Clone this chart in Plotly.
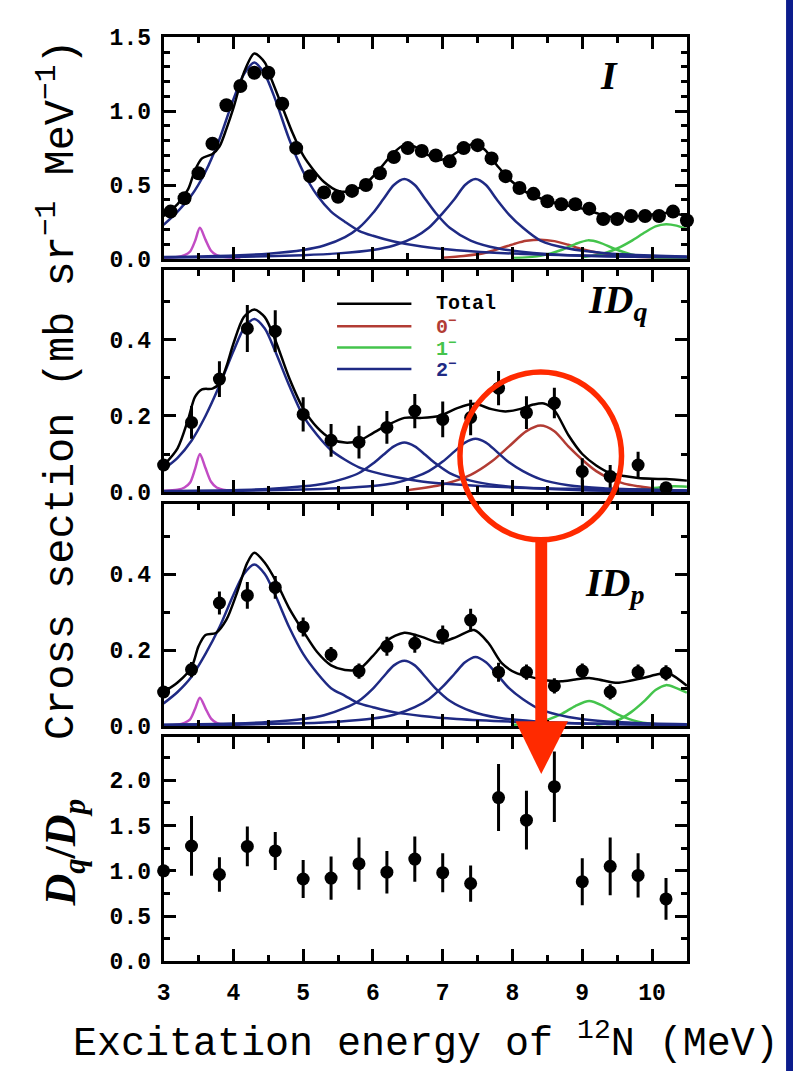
import plotly.graph_objects as go

W, H = 793, 1071

# ---------------- data: panel 1 (I) ----------------
i_x = [3.1, 3.3, 3.5, 3.7, 3.9, 4.1, 4.3, 4.5, 4.7, 4.9, 5.1, 5.3, 5.5, 5.7, 5.9, 6.1, 6.3, 6.5, 6.7,
       6.9, 7.1, 7.3, 7.5, 7.7, 7.9, 8.1, 8.3, 8.5, 8.7, 8.9, 9.1, 9.3, 9.5, 9.7, 9.9, 10.1, 10.3, 10.5]
i_y = [0.32, 0.41, 0.58, 0.78, 1.04, 1.17, 1.26, 1.26, 1.05, 0.75, 0.56, 0.45, 0.42, 0.46, 0.50, 0.58,
       0.69, 0.75, 0.73, 0.70, 0.66, 0.75, 0.77, 0.68, 0.56, 0.48, 0.44, 0.39, 0.37, 0.37, 0.34, 0.27,
       0.27, 0.29, 0.29, 0.29, 0.32, 0.26]

i_tot_x = [3.0, 3.2, 3.35, 3.45, 3.55, 3.7, 3.8, 3.9, 4.0, 4.15, 4.3, 4.45, 4.55, 4.7, 4.85, 5.0, 5.15,
           5.3, 5.5, 5.7, 5.9, 6.1, 6.3, 6.45, 6.6, 6.8, 6.95, 7.1, 7.3, 7.45, 7.6, 7.8, 8.0, 8.2, 8.4,
           8.6, 8.8, 9.0, 9.2, 9.4, 9.6, 9.8, 10.0, 10.2, 10.4, 10.5]
i_tot_y = [0.29, 0.37, 0.47, 0.60, 0.68, 0.71, 0.76, 0.88, 1.02, 1.26, 1.39, 1.33, 1.21, 1.03, 0.85,
           0.70, 0.60, 0.52, 0.46, 0.46, 0.51, 0.61, 0.72, 0.77, 0.76, 0.70, 0.67, 0.69, 0.75, 0.78,
           0.74, 0.62, 0.52, 0.45, 0.41, 0.38, 0.36, 0.34, 0.31, 0.285, 0.28, 0.29, 0.30, 0.31, 0.30, 0.29]

i_mag_x = [3.0, 3.2, 3.3, 3.38, 3.45, 3.52, 3.6, 3.68, 3.76, 3.9, 4.1]
i_mag_y = [0.005, 0.012, 0.025, 0.05, 0.12, 0.21, 0.13, 0.055, 0.025, 0.01, 0.005]

i_b1_x = [3.0, 3.2, 3.4, 3.6, 3.8, 4.0, 4.15, 4.3, 4.45, 4.6, 4.8, 5.0, 5.2, 5.4, 5.6, 5.8, 6.0,
          6.3, 6.7, 7.2, 8.0, 9.0, 10.5]
i_b1_y = [0.23, 0.32, 0.43, 0.59, 0.81, 1.08, 1.25, 1.33, 1.25, 1.08, 0.81, 0.59, 0.43, 0.32, 0.25,
          0.19, 0.156, 0.117, 0.083, 0.058, 0.036, 0.023, 0.013]

i_b2_x = [3.0, 4.0, 4.5, 5.0, 5.3, 5.6, 5.8, 6.0, 6.15, 6.3, 6.45, 6.6, 6.75, 6.9, 7.1, 7.4, 7.8,
          8.3, 9.0, 10.5]
i_b2_y = [0.012, 0.023, 0.035, 0.06, 0.09, 0.147, 0.21, 0.31, 0.405, 0.50, 0.54, 0.50, 0.405, 0.31,
          0.21, 0.124, 0.07, 0.04, 0.021, 0.009]

i_b3_x = [3.0, 4.0, 5.0, 5.5, 6.0, 6.3, 6.6, 6.8, 7.0, 7.17, 7.32, 7.47, 7.62, 7.77, 7.95, 8.15,
          8.4, 8.8, 9.3, 10.0, 10.5]
i_b3_y = [0.008, 0.013, 0.025, 0.037, 0.06, 0.09, 0.147, 0.21, 0.31, 0.405, 0.50, 0.54, 0.50,
          0.405, 0.30, 0.21, 0.124, 0.07, 0.04, 0.022, 0.016]

i_red_x = [7.0, 7.3, 7.6, 7.85, 8.05, 8.2, 8.4, 8.6, 8.8, 9.0, 9.3, 9.7, 10.1, 10.5]
i_red_y = [0.008, 0.02, 0.04, 0.075, 0.105, 0.122, 0.13, 0.12, 0.095, 0.065, 0.035, 0.015, 0.008, 0.005]

i_g1_x = [8.0, 8.4, 8.7, 8.9, 9.08, 9.25, 9.45, 9.7, 10.0, 10.5]
i_g1_y = [0.005, 0.02, 0.06, 0.10, 0.125, 0.11, 0.07, 0.03, 0.01, 0.004]

i_g2_x = [9.0, 9.3, 9.5, 9.7, 9.9, 10.05, 10.2, 10.35, 10.5]
i_g2_y = [0.01, 0.035, 0.07, 0.12, 0.18, 0.22, 0.235, 0.225, 0.20]

# ---------------- data: panels 2-4 share the energy bins ----------------
bin_x = [3.0, 3.4, 3.8, 4.2, 4.6, 5.0, 5.4, 5.8, 6.2, 6.6, 7.0, 7.4, 7.8, 8.2, 8.6, 9.0, 9.4, 9.8, 10.2]

# panel 2 (ID_q)
q_y = [0.071, 0.183, 0.297, 0.43, 0.423, 0.204, 0.136, 0.131, 0.17, 0.213, 0.191, 0.196, 0.273,
       0.209, 0.234, 0.054, 0.041, 0.071, 0.011]
q_err = [0.01, 0.043, 0.047, 0.062, 0.055, 0.045, 0.043, 0.043, 0.043, 0.045, 0.047, 0.047, 0.045,
         0.043, 0.04, 0.035, 0.03, 0.035, 0.01]

q_tot_x = [3.0, 3.2, 3.35, 3.45, 3.55, 3.7, 3.8, 3.9, 4.0, 4.15, 4.3, 4.45, 4.6, 4.8, 5.0, 5.2, 5.4,
           5.6, 5.8, 6.0, 6.2, 6.45, 6.7, 6.95, 7.2, 7.45, 7.7, 7.9, 8.1, 8.3, 8.45, 8.6, 8.8, 9.0,
           9.2, 9.4, 9.6, 9.8, 10.0, 10.2, 10.5]
q_tot_y = [0.07, 0.115, 0.19, 0.25, 0.27, 0.272, 0.285, 0.33, 0.39, 0.46, 0.48, 0.46, 0.40, 0.30,
           0.22, 0.17, 0.14, 0.13, 0.135, 0.155, 0.175, 0.195, 0.195, 0.20, 0.22, 0.232, 0.218,
           0.212, 0.218, 0.23, 0.233, 0.215, 0.15, 0.10, 0.07, 0.05, 0.042, 0.037, 0.035, 0.034, 0.03]

q_mag_x = [3.0, 3.2, 3.3, 3.38, 3.45, 3.52, 3.6, 3.68, 3.76, 3.9, 4.1]
q_mag_y = [0.003, 0.006, 0.012, 0.025, 0.06, 0.10, 0.063, 0.027, 0.012, 0.005, 0.002]

q_b1_x = [3.0, 3.2, 3.4, 3.6, 3.8, 4.0, 4.15, 4.3, 4.45, 4.6, 4.8, 5.0, 5.2, 5.4, 5.6, 5.8, 6.0,
          6.3, 6.7, 7.2, 8.0, 9.0, 10.5]
q_b1_y = [0.06, 0.09, 0.135, 0.20, 0.28, 0.37, 0.43, 0.455, 0.43, 0.37, 0.28, 0.20, 0.15, 0.11,
          0.085, 0.065, 0.053, 0.04, 0.028, 0.02, 0.012, 0.008, 0.004]

q_b2_x = [3.0, 4.0, 4.5, 5.0, 5.3, 5.6, 5.8, 6.0, 6.15, 6.3, 6.45, 6.6, 6.75, 6.9, 7.1, 7.4, 7.8,
          8.3, 9.0, 10.5]
q_b2_y = [0.003, 0.005, 0.008, 0.015, 0.022, 0.036, 0.05, 0.075, 0.098, 0.12, 0.13, 0.12, 0.098,
          0.075, 0.05, 0.03, 0.017, 0.01, 0.005, 0.002]

q_b3_x = [3.0, 4.0, 5.0, 5.5, 6.0, 6.3, 6.6, 6.8, 7.0, 7.17, 7.32, 7.47, 7.62, 7.77, 7.95, 8.15,
          8.4, 8.8, 9.3, 10.0, 10.5]
q_b3_y = [0.002, 0.003, 0.0065, 0.01, 0.016, 0.023, 0.039, 0.055, 0.08, 0.107, 0.13, 0.14, 0.13,
          0.107, 0.078, 0.055, 0.034, 0.018, 0.01, 0.006, 0.004]

q_red_x = [6.5, 7.0, 7.4, 7.7, 7.95, 8.2, 8.4, 8.6, 8.8, 9.0, 9.2, 9.4, 9.6, 9.8, 10.0]
q_red_y = [0.005, 0.02, 0.045, 0.08, 0.12, 0.16, 0.175, 0.16, 0.12, 0.085, 0.055, 0.035, 0.022,
           0.015, 0.01]

q_grn_x = [9.4, 9.8, 10.1, 10.3, 10.5]
q_grn_y = [0.002, 0.006, 0.012, 0.015, 0.014]

# panel 3 (ID_p)
p_y = [0.09, 0.149, 0.324, 0.344, 0.365, 0.261, 0.188, 0.145, 0.21, 0.218, 0.24, 0.279, 0.142,
       0.142, 0.106, 0.145, 0.09, 0.142, 0.14]
p_err = [0.01, 0.02, 0.03, 0.035, 0.03, 0.025, 0.02, 0.02, 0.025, 0.025, 0.025, 0.03, 0.025, 0.02,
         0.02, 0.02, 0.02, 0.02, 0.02]

p_tot_x = [3.0, 3.2, 3.4, 3.5, 3.6, 3.75, 3.9, 4.05, 4.2, 4.3, 4.45, 4.6, 4.8, 5.0, 5.2, 5.4, 5.6,
           5.8, 6.0, 6.2, 6.45, 6.7, 6.95, 7.2, 7.45, 7.65, 7.85, 8.05, 8.25, 8.5, 8.7, 8.9, 9.1,
           9.3, 9.5, 9.7, 9.9, 10.1, 10.25, 10.5]
p_tot_y = [0.09, 0.115, 0.155, 0.21, 0.24, 0.245, 0.28, 0.35, 0.43, 0.456, 0.43, 0.385, 0.31, 0.25,
           0.195, 0.16, 0.148, 0.15, 0.185, 0.225, 0.246, 0.235, 0.22, 0.235, 0.253, 0.22, 0.165,
           0.14, 0.13, 0.12, 0.118, 0.123, 0.127, 0.12, 0.114, 0.12, 0.128, 0.137, 0.138, 0.106]

p_mag_x = [3.0, 3.2, 3.3, 3.38, 3.45, 3.52, 3.6, 3.68, 3.76, 3.9, 4.1]
p_mag_y = [0.002, 0.004, 0.009, 0.018, 0.045, 0.075, 0.047, 0.02, 0.009, 0.004, 0.002]

p_b1_x = [3.0, 3.2, 3.4, 3.6, 3.8, 4.0, 4.15, 4.3, 4.45, 4.6, 4.8, 5.0, 5.2, 5.4, 5.6, 5.8, 6.0,
          6.3, 6.7, 7.2, 8.0, 9.0, 10.5]
p_b1_y = [0.06, 0.09, 0.13, 0.19, 0.26, 0.345, 0.40, 0.425, 0.40, 0.345, 0.26, 0.19, 0.14, 0.10,
          0.08, 0.06, 0.05, 0.037, 0.027, 0.019, 0.012, 0.007, 0.004]

p_b2_x = [3.0, 4.0, 4.5, 5.0, 5.3, 5.6, 5.8, 6.0, 6.15, 6.3, 6.45, 6.6, 6.75, 6.9, 7.1, 7.4, 7.8,
          8.3, 9.0, 10.5]
p_b2_y = [0.004, 0.007, 0.011, 0.019, 0.029, 0.048, 0.067, 0.099, 0.13, 0.16, 0.172, 0.16, 0.13,
          0.099, 0.067, 0.04, 0.022, 0.013, 0.007, 0.003]

p_b3_x = [3.0, 4.0, 5.0, 5.5, 6.0, 6.3, 6.6, 6.8, 7.0, 7.17, 7.32, 7.47, 7.62, 7.77, 7.95, 8.15,
          8.4, 8.8, 9.3, 10.0, 10.5]
p_b3_y = [0.003, 0.004, 0.008, 0.012, 0.02, 0.03, 0.05, 0.071, 0.104, 0.138, 0.168, 0.182, 0.168,
          0.138, 0.10, 0.071, 0.044, 0.024, 0.013, 0.007, 0.005]

p_g1_x = [8.0, 8.4, 8.7, 8.9, 9.1, 9.3, 9.5, 9.8, 10.2, 10.5]
p_g1_y = [0.003, 0.012, 0.032, 0.053, 0.066, 0.053, 0.032, 0.012, 0.003, 0.002]

p_g2_x = [9.2, 9.5, 9.7, 9.9, 10.05, 10.2, 10.35, 10.5]
p_g2_y = [0.003, 0.015, 0.037, 0.068, 0.095, 0.108, 0.10, 0.088]

# panel 4 (D_q / D_p)
r_y = [1.0, 1.275, 0.96, 1.27, 1.22, 0.91, 0.92, 1.08, 0.985, 1.13, 0.98, 0.86, 1.81, 1.56, 1.93,
       0.88, 1.05, 0.95, 0.69]
r_err = [0.05, 0.33, 0.19, 0.22, 0.21, 0.21, 0.24, 0.29, 0.235, 0.25, 0.215, 0.2, 0.37, 0.325, 0.39,
         0.26, 0.32, 0.245, 0.23]

x_ticks = [3, 4, 5, 6, 7, 8, 9, 10]

legend_labels = ["Total", "0<sup>−</sup>", "1<sup>−</sup>", "2<sup>−</sup>"]

# ---------------- styling ----------------
BLACK = "#000000"
BLUE = "#1f2a84"
RED = "#b23c34"
GREEN = "#44c44c"
MAG = "#c24cc4"
ARROW = "#ff2a00"
MONO = "Liberation Mono"
SERIF = "Liberation Serif"
legend_colors = [BLACK, RED, GREEN, BLUE]

# pixel geometry of the four panels (top, bottom)
X_LEFT, X_RIGHT = 158, 686
PANELS = [(27, 254), (265, 493), (505, 733), (744, 974)]


def px(xp):
    return xp / W


def py(yp):
    return 1 - yp / H


fig = go.Figure()


def line(x, y, color, n, width=2.5, name=None):
    fig.add_trace(go.Scatter(
        x=x, y=y, mode="lines", line=dict(color=color, width=width, shape="spline", smoothing=0.8),
        xaxis="x" if n == 1 else f"x{n}", yaxis="y" if n == 1 else f"y{n}",
        name=name, showlegend=False, hoverinfo="skip"))


def points(x, y, n, err=None, size=13, name=None):
    fig.add_trace(go.Scatter(
        x=x, y=y, mode="markers", marker=dict(color=BLACK, size=size),
        error_y=None if err is None else dict(type="data", array=err, color=BLACK, thickness=3, width=0),
        xaxis="x" if n == 1 else f"x{n}", yaxis="y" if n == 1 else f"y{n}",
        name=name, showlegend=False, cliponaxis=False))


# panel 1
line(i_mag_x, i_mag_y, MAG, 1)
line(i_red_x, i_red_y, RED, 1, name="0-")
line(i_g1_x, i_g1_y, GREEN, 1, name="1-")
line(i_g2_x, i_g2_y, GREEN, 1, name="1-")
line(i_b1_x, i_b1_y, BLUE, 1, name="2-")
line(i_b2_x, i_b2_y, BLUE, 1, name="2-")
line(i_b3_x, i_b3_y, BLUE, 1, name="2-")
line(i_tot_x, i_tot_y, BLACK, 1, name="Total")
points(i_x, i_y, 1, size=14, name="I")

# panel 2
line(q_mag_x, q_mag_y, MAG, 2)
line(q_grn_x, q_grn_y, GREEN, 2, name="1-")
line(q_red_x, q_red_y, RED, 2, name="0-")
line(q_b1_x, q_b1_y, BLUE, 2, name="2-")
line(q_b2_x, q_b2_y, BLUE, 2, name="2-")
line(q_b3_x, q_b3_y, BLUE, 2, name="2-")
line(q_tot_x, q_tot_y, BLACK, 2, name="Total")
points(bin_x, q_y, 2, q_err, name="ID_q")

# panel 3
line(p_mag_x, p_mag_y, MAG, 3)
line(p_g1_x, p_g1_y, GREEN, 3, name="1-")
line(p_g2_x, p_g2_y, GREEN, 3, name="1-")
line(p_b1_x, p_b1_y, BLUE, 3, name="2-")
line(p_b2_x, p_b2_y, BLUE, 3, name="2-")
line(p_b3_x, p_b3_y, BLUE, 3, name="2-")
line(p_tot_x, p_tot_y, BLACK, 3, name="Total")
points(bin_x, p_y, 3, p_err, name="ID_p")

# panel 4
points(bin_x, r_y, 4, r_err, name="Dq/Dp")

tickfont = dict(family=MONO, size=23, color=BLACK, weight="bold")
common = dict(showline=True, linewidth=3, linecolor=BLACK, mirror="ticks", ticks="inside",
              ticklen=12, tickwidth=2.5, tickcolor=BLACK, showgrid=False, zeroline=False,
              tickfont=tickfont)

y_ranges = [[0, 1.5], [0, 0.585], [0, 0.585], [0, 2.48]]
y_dticks = [0.5, 0.2, 0.2, 0.5]
y_minor = [0.1, 0.1, 0.1, 0.25]

layout = dict(width=W, height=H, margin=dict(l=0, r=0, t=0, b=0), paper_bgcolor="white",
              plot_bgcolor="white", showlegend=False)
for k in range(4):
    n = k + 1
    top, bot = PANELS[k]
    xa = "xaxis" if n == 1 else f"xaxis{n}"
    ya = "yaxis" if n == 1 else f"yaxis{n}"
    layout[xa] = dict(common, domain=[px(X_LEFT), px(X_RIGHT)], range=[3, 10.5],
                      tickvals=x_ticks, ticktext=[str(t) for t in x_ticks],
                      minor=dict(dtick=0.5, tick0=3, ticklen=6, tickwidth=2.5, tickcolor=BLACK, ticks="inside"),
                      showticklabels=(n == 4), anchor="y" if n == 1 else f"y{n}",
                      ticklabelstandoff=8)
    layout[ya] = dict(common, domain=[py(bot), py(top)], range=y_ranges[k], dtick=y_dticks[k],
                      tick0=0, tickformat=".1f",
                      minor=dict(dtick=y_minor[k], tick0=0, ticklen=6, tickwidth=2.5, tickcolor=BLACK, ticks="inside"),
                      anchor="x" if n == 1 else f"x{n}", ticklabelstandoff=5)

annotations = [
    dict(text="Cross section (mb sr<sup>−1</sup> MeV<sup>−1</sup>)", x=px(52), y=py(388),
         textangle=-90, font=dict(family=MONO, size=42, color=BLACK)),
    dict(text="<b><i>D<sub>q</sub></i>/<i>D<sub>p</sub></i></b>", x=px(57), y=py(862), textangle=-90,
         font=dict(family=SERIF, size=44, color=BLACK)),
    dict(text="Excitation energy of <sup>12</sup>N (MeV)", x=px(423), y=py(1056),
         font=dict(family=MONO, size=40, color=BLACK)),
    dict(text="<b><i>I</i></b>", x=px(607), y=py(66), font=dict(family=SERIF, size=40, color=BLACK)),
    dict(text="<b><i>ID<sub>q</sub></i></b>", x=px(616), y=py(298), font=dict(family=SERIF, size=40, color=BLACK)),
    dict(text="<b><i>ID<sub>p</sub></i></b>", x=px(613), y=py(588), font=dict(family=SERIF, size=40, color=BLACK)),
]

# legend (drawn in panel 2): lines + coloured labels
legend_rows = [300, 323, 345, 367]
shapes = []
for lab, col, yr in zip(legend_labels, legend_colors, legend_rows):
    shapes.append(dict(type="line", x0=px(333), x1=px(408), y0=py(yr), y1=py(yr),
                       line=dict(color=col, width=2.5)))
    annotations.append(dict(text=f"<b>{lab}</b>", x=px(431), y=py(yr), xanchor="left",
                            font=dict(family=MONO, size=20, color=col)))

for a in annotations:
    a.setdefault("xanchor", "center")
    a.update(xref="paper", yref="paper", showarrow=False, yanchor="middle")
layout["annotations"] = annotations

shapes += [
    # blue side bar
    dict(type="rect", x0=px(786), x1=1.05, y0=-0.05, y1=1.05, fillcolor="#0c1c8c", line=dict(width=0)),
    # red highlight ellipse
    dict(type="circle", x0=px(457), x1=px(620), y0=py(542), y1=py(370),
         line=dict(color=ARROW, width=5.5), layer="above"),
    # arrow shaft
    dict(type="rect", x0=px(533), x1=px(545), y0=py(732), y1=py(540), fillcolor=ARROW,
         line=dict(width=0), layer="above"),
    # arrow head
    dict(type="path", path=f"M {px(513)} {py(728)} L {px(566)} {py(728)} L {px(539)} {py(782)} Z",
         fillcolor=ARROW, line=dict(width=0), layer="above"),
]
for s in shapes:
    s.update(xref="paper", yref="paper")
layout["shapes"] = shapes

fig.update_layout(**layout)
fig.write_html("out.html")
